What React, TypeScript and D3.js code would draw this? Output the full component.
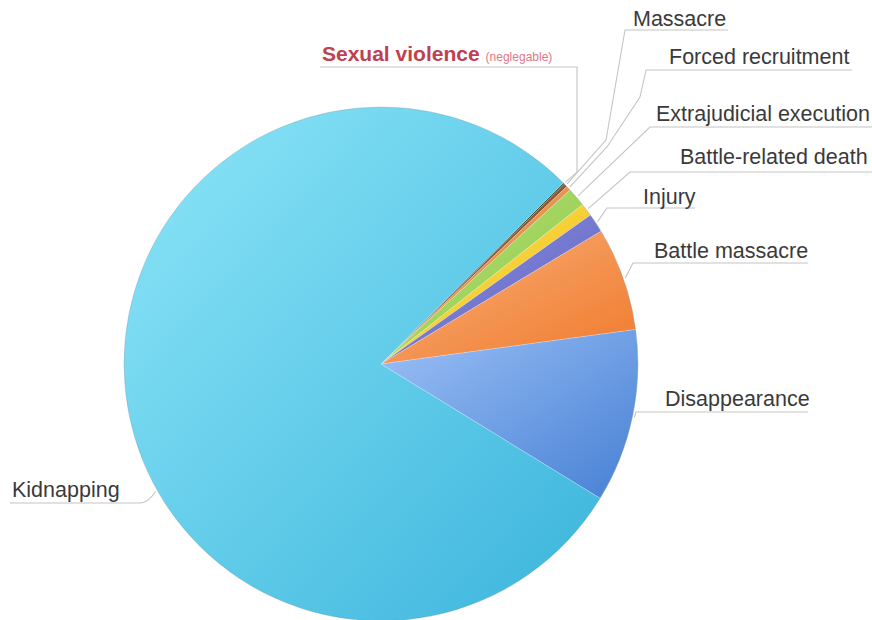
import React from "react";
import * as d3 from "d3";

// Data (share of incidents, %), clockwise from the top-right
const categories = [
  "Sexual violence",
  "Massacre",
  "Forced recruitment",
  "Extrajudicial execution",
  "Battle-related death",
  "Injury",
  "Battle massacre",
  "Disappearance",
  "Kidnapping",
];
const values = [0.1, 0.2, 0.3, 1.2, 0.8, 1.2, 6.5, 10.9, 78.8];
const colorsLight = ["#3a4a2a", "#9a6438", "#f0a060", "#b4e070", "#fde050", "#8a8ee0", "#f8b07e", "#9cc0f6", "#8ee6f8"];
const colorsDark = ["#2a3a20", "#7a4a24", "#e08840", "#90c850", "#f0c020", "#6064c0", "#f07a2a", "#4680d4", "#3ab4dc"];

// Layout of the labels (annotation positions)
const labelX = [322, 633, 669, 656, 680, 643, 654, 665, 12];
const labelY = [61, 26, 64, 121, 164, 204, 258, 406, 497];
const lineY = [67, 30, 70, 127, 172, 208, 263, 412, 503];
const lineX0 = [577, 625, 646, 650, 630, 607, 633, 636, 140];
const lineX1 = [320, 728, 852, 872, 872, 695, 808, 808, 10];

const W = 872;
const H = 620;
const cx = 381;
const cy = 364;
const R = 257;
const startDeg = 45.2;

export default function App() {
  const pie = d3
    .pie<number>()
    .sort(null)
    .value((d) => d)
    .startAngle((startDeg * Math.PI) / 180)
    .endAngle((startDeg * Math.PI) / 180 + 2 * Math.PI);
  const arcs = pie(values);
  const arc = d3.arc<d3.PieArcDatum<number>>().innerRadius(0).outerRadius(R);

  const pt = (a: number, r: number) => [Math.sin(a) * r, -Math.cos(a) * r];

  const leaders = arcs.map((a, i) => {
    let ang = (a.startAngle + a.endAngle) / 2;
    if (categories[i] === "Kidnapping") ang = (240.5 * Math.PI) / 180;
    const [px, py] = pt(ang, R + 2);
    const sx = cx + px;
    const sy = cy + py;
    const ex = lineX0[i];
    const ey = lineY[i];
    const fx = lineX1[i];
    let d: string;
    if (i === 0) {
      d = `M${sx},${sy} L${ex},${sy - 10} L${ex},${ey} L${fx},${ey}`;
    } else if (i === 1) {
      d = `M${sx},${sy} L${606},${140} L${ex},${ey} L${fx},${ey}`;
    } else if (i === 2) {
      d = `M${sx},${sy} L${607},${147} L${640},${97} L${ex},${ey} L${fx},${ey}`;
    } else if (categories[i] === "Kidnapping") {
      d = `M${sx},${sy} Q${ex + 8},${ey} ${ex},${ey} L${fx},${ey}`;
    } else {
      d = `M${sx},${sy} L${ex},${ey} L${fx},${ey}`;
    }
    return d;
  });

  return (
    <svg
      width={W}
      height={H}
      style={{ position: "absolute", left: 0, top: 0, background: "#fff" }}
      fontFamily="'Liberation Sans', Arial, Helvetica, sans-serif"
    >
      <defs>
        {categories.map((c, i) => (
          <linearGradient key={c} id={`g${i}`} x1="0" y1="0" x2="1" y2="1">
            <stop offset="0%" stopColor={colorsLight[i]} />
            <stop offset="100%" stopColor={colorsDark[i]} />
          </linearGradient>
        ))}
      </defs>
      <g transform={`translate(${cx},${cy})`}>
        {arcs.map((a, i) => (
          <path
            key={categories[i]}
            d={arc(a) || ""}
            fill={`url(#g${i})`}
            stroke="rgba(255,255,255,0.35)"
            strokeWidth={0.6}
          />
        ))}
        <circle r={R} fill="none" stroke="rgba(60,90,110,0.25)" strokeWidth={0.8} />
      </g>
      {leaders.map((d, i) => (
        <path key={`l${i}`} d={d} fill="none" stroke="#c4c4c4" strokeWidth={1.1} />
      ))}
      {categories.map((c, i) =>
        i === 0 ? (
          <text key={c} x={labelX[i]} y={labelY[i]}>
            <tspan fontSize={21} fontWeight="bold" fill="#c0404e">
              {c}
            </tspan>
            <tspan fontSize={12} fill="#e07884" dx={6}>
              (neglegable)
            </tspan>
          </text>
        ) : (
          <text key={c} x={labelX[i]} y={labelY[i]} fontSize={21.5} fill="#3a3a3a">
            {c}
          </text>
        )
      )}
    </svg>
  );
}
